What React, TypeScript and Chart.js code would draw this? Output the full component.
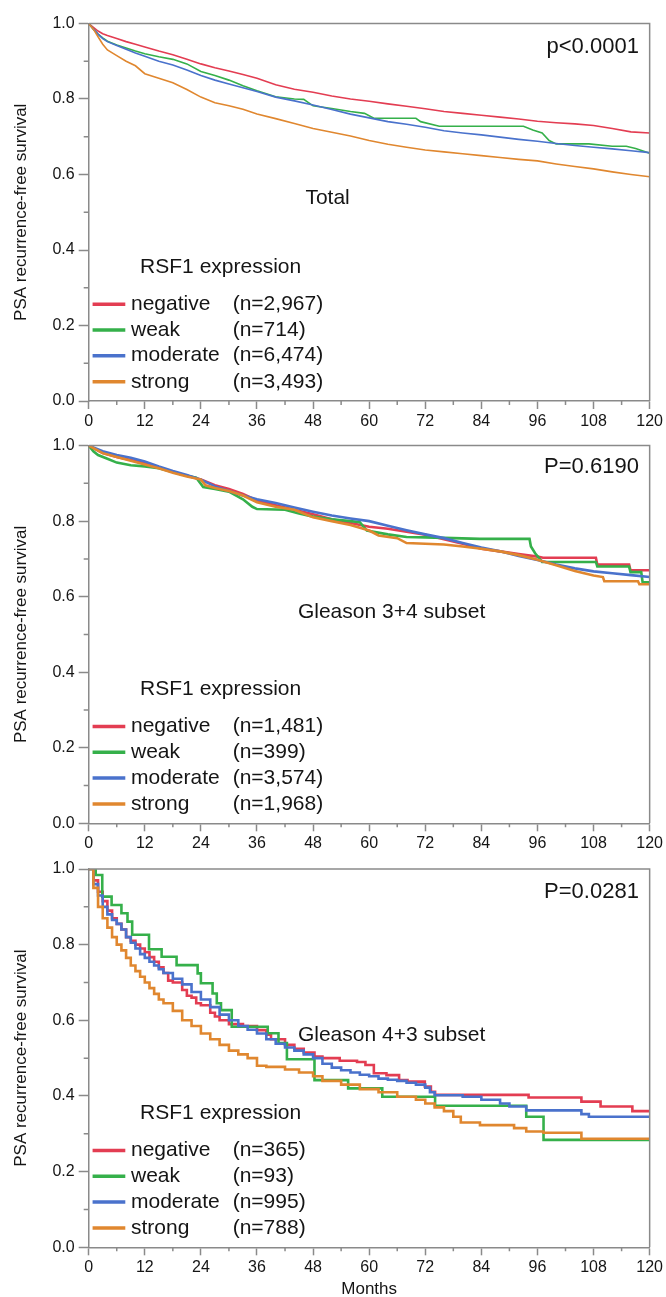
import React, { useEffect, useRef } from "react";
import { Chart, registerables } from "chart.js";

Chart.register(...registerables);

// ---------- data ----------
const GROUPS = ["negative", "weak", "moderate", "strong"];
const COLORS = ["#e33d52", "#35b04a", "#4a72cc", "#e0872f"];
const X_TICK_STEP = 12;
const Y_TICK_STEP = 0.2;

// Panel 1: Total
const P1_NEG_X = [0,1,2,3,4,6,8,10,12,15,18,21,24,27,30,33,36,40,44,48,52,56,60,64,68,72,76,80,84,88,92,96,100,104,108,112,116,120];
const P1_NEG_Y = [1,0.99,0.98,0.973,0.968,0.96,0.952,0.945,0.938,0.927,0.917,0.905,0.893,0.883,0.874,0.865,0.855,0.838,0.826,0.818,0.808,0.8,0.794,0.787,0.781,0.774,0.767,0.762,0.757,0.752,0.747,0.741,0.737,0.734,0.73,0.722,0.713,0.71];
const P1_WEAK_X = [0,1,2,3,4,6,8,10,12,15,18,21,24,27,30,33,36,40,44,46,48,52,56,59,61,66,70,71,75,80,84,88,93,95,97,98.5,100,104,107,112,115,117,120];
const P1_WEAK_Y = [1,0.985,0.972,0.962,0.953,0.943,0.935,0.927,0.92,0.912,0.905,0.893,0.873,0.862,0.85,0.835,0.822,0.806,0.8,0.799,0.782,0.775,0.767,0.762,0.749,0.749,0.749,0.74,0.728,0.728,0.728,0.728,0.728,0.718,0.71,0.69,0.681,0.681,0.681,0.675,0.675,0.669,0.656];
const P1_MOD_X = [0,1,2,3,4,6,8,10,12,15,18,21,24,27,30,33,36,40,44,48,52,56,60,64,68,72,76,80,84,88,92,96,100,104,108,112,116,120];
const P1_MOD_Y = [1,0.985,0.972,0.96,0.952,0.942,0.932,0.922,0.913,0.9,0.89,0.877,0.862,0.85,0.84,0.83,0.82,0.805,0.795,0.784,0.772,0.76,0.75,0.74,0.733,0.725,0.716,0.71,0.705,0.699,0.693,0.688,0.682,0.677,0.672,0.668,0.663,0.658];
const P1_STR_X = [0,1,2,3,4,6,8,10,12,15,18,21,24,27,30,33,36,40,44,48,52,56,60,64,68,72,76,80,84,88,92,96,100,104,108,112,116,120];
const P1_STR_Y = [1,0.985,0.965,0.945,0.93,0.915,0.9,0.888,0.867,0.855,0.843,0.825,0.805,0.79,0.782,0.773,0.76,0.748,0.735,0.722,0.712,0.702,0.69,0.68,0.672,0.665,0.66,0.655,0.65,0.645,0.64,0.636,0.628,0.621,0.615,0.607,0.6,0.594];
const P1_COUNTS = ["(n=2,967)", "(n=714)", "(n=6,474)", "(n=3,493)"];

// Panel 2: Gleason 3+4
const P2_NEG_X = [0,3,6,9,12,15,18,21,24,27,30,33,36,40,44,48,52,56,60,64,68,72,76,80,84,88,92,96,97.2,108.5,108.8,115.6,115.9,120];
const P2_NEG_Y = [1,0.98,0.97,0.962,0.953,0.942,0.93,0.92,0.91,0.895,0.885,0.872,0.855,0.842,0.83,0.818,0.805,0.795,0.785,0.78,0.772,0.764,0.752,0.74,0.727,0.72,0.713,0.706,0.703,0.703,0.685,0.685,0.67,0.67];
const P2_WEAK_X = [0,1,2,4,6,9,12,15,18,21,23,24.5,27,30,33,35,36,42,45,48,52,56,58,59.5,64,68,72,78,83.7,94.3,94.6,95.5,97,108.5,108.8,115.6,115.9,118.2,118.5,120];
const P2_WEAK_Y = [1,0.985,0.975,0.965,0.955,0.948,0.945,0.94,0.93,0.92,0.915,0.89,0.885,0.878,0.858,0.838,0.832,0.83,0.82,0.812,0.805,0.8,0.797,0.775,0.765,0.758,0.757,0.755,0.753,0.753,0.733,0.715,0.692,0.692,0.68,0.68,0.665,0.665,0.638,0.638];
const P2_MOD_X = [0,3,6,9,12,15,18,21,24,27,30,33,36,40,44,48,52,56,60,64,68,72,76,80,84,88,92,96,100,104,108,112,116,120];
const P2_MOD_Y = [1,0.985,0.975,0.968,0.958,0.945,0.933,0.922,0.91,0.892,0.88,0.868,0.858,0.848,0.836,0.825,0.815,0.807,0.8,0.788,0.776,0.765,0.755,0.742,0.73,0.72,0.708,0.697,0.685,0.675,0.667,0.662,0.657,0.652];
const P2_STR_X = [0,3,6,9,12,15,18,21,24,25,27,30,33,36,40,44,48,52,56,60,62,66,68,72,76,80,84,88,92,96,100,104,108,110,110.3,117.5,117.8,120];
const P2_STR_Y = [1,0.98,0.97,0.96,0.95,0.94,0.928,0.918,0.91,0.895,0.888,0.88,0.868,0.85,0.838,0.83,0.81,0.8,0.79,0.775,0.762,0.755,0.742,0.74,0.738,0.733,0.727,0.72,0.71,0.698,0.683,0.668,0.656,0.652,0.641,0.641,0.633,0.633];
const P2_COUNTS = ["(n=1,481)", "(n=399)", "(n=3,574)", "(n=1,968)"];

// Panel 3: Gleason 4+3
const P3_NEG_X = [0,1,2,3,4,5,6,7,8,9,10,11,12,13,14,15,16,17,18,20,21,22,23,24,26,27,28,30,33,36,38,39,42,44,46,48.3,50,53.7,57.4,59.2,61,63.7,66.4,68.2,71.9,73.2,74.1,94.1,105.4,109.5,116.3,120];
const P3_NEG_Y = [1,0.97,0.94,0.915,0.89,0.87,0.855,0.84,0.82,0.81,0.8,0.79,0.78,0.767,0.755,0.74,0.725,0.705,0.7,0.68,0.665,0.66,0.645,0.64,0.62,0.61,0.6,0.59,0.585,0.574,0.562,0.55,0.535,0.525,0.515,0.504,0.5,0.493,0.49,0.482,0.46,0.455,0.442,0.438,0.425,0.411,0.403,0.396,0.385,0.372,0.36,0.36];
const P3_WEAK_X = [0,1.5,2.9,4.9,7,8.3,9.3,12.9,15.6,18.8,23.3,24,26.5,27.4,28.3,30.6,38.3,40.6,42.4,48.3,55.5,62.8,74.1,93.6,97.3,120];
const P3_WEAK_Y = [1,0.984,0.927,0.905,0.883,0.861,0.826,0.788,0.768,0.746,0.724,0.698,0.671,0.645,0.627,0.583,0.566,0.54,0.497,0.442,0.42,0.398,0.374,0.345,0.284,0.284];
const P3_MOD_X = [0,1,2,3,4,5,6,7,8,9,10,11,12,13,14,15,16,18,20,22,24,26,28,30,32,34,36,38,40,42,44,46,48,50,52,54,56,58,60,62,64,66,68,70,72,73,74,80,84,88,90,93.6,105.4,107,120];
const P3_MOD_Y = [1,0.96,0.93,0.9,0.88,0.865,0.855,0.84,0.82,0.805,0.79,0.775,0.765,0.755,0.745,0.735,0.725,0.71,0.695,0.675,0.655,0.635,0.615,0.6,0.585,0.575,0.565,0.55,0.538,0.528,0.52,0.51,0.5,0.485,0.475,0.468,0.462,0.456,0.452,0.446,0.443,0.44,0.435,0.43,0.422,0.41,0.402,0.398,0.39,0.38,0.372,0.362,0.352,0.345,0.345];
const P3_STR_X = [0,1,2,3,4,5,6,7,8,9,10,11,12,13,14,15,16,18,20,22,24,26,28,30,32,34,36,38,42,45,48,50,54,58,62,66,70,72,74,76,78,79.6,83.7,91,93.6,97.3,105.4,120];
const P3_STR_Y = [1,0.95,0.9,0.87,0.845,0.82,0.8,0.785,0.765,0.745,0.73,0.715,0.7,0.685,0.67,0.655,0.645,0.625,0.6,0.585,0.565,0.55,0.535,0.52,0.51,0.5,0.48,0.477,0.47,0.462,0.452,0.44,0.43,0.418,0.41,0.398,0.39,0.38,0.37,0.36,0.345,0.33,0.323,0.315,0.306,0.303,0.287,0.287];
const P3_COUNTS = ["(n=365)", "(n=93)", "(n=995)", "(n=788)"];

const P_TEXTS = ["p<0.0001", "P=0.6190", "P=0.0281"];
const SUBSET_TEXTS = ["Total", "Gleason 3+4 subset", "Gleason 4+3 subset"];
const LEGEND_TITLE = "RSF1 expression";
const Y_TITLE = "PSA recurrence-free survival";
const X_TITLE = "Months";

// ---------- styling ----------
const FONT = "'Liberation Sans', Arial, Helvetica, sans-serif";
const AXIS = "#8a8a8a";
const TEXT = "#151515";

type Series = { xs: number[]; ys: number[] };
type PanelCfg = {
  top: number;
  height: number;
  padTop: number;
  xh: number;
  lw: number;
  stepped: boolean;
  series: Series[];
  counts: string[];
  pText: string;
  subset: string;
  subsetX: number;
  subsetY: number;
  pY: number;
  months: boolean;
};

const PANELS: PanelCfg[] = [
  {
    top: 8, height: 424, padTop: 15.5, xh: 31, lw: 1.6, stepped: false,
    series: [
      { xs: P1_NEG_X, ys: P1_NEG_Y },
      { xs: P1_WEAK_X, ys: P1_WEAK_Y },
      { xs: P1_MOD_X, ys: P1_MOD_Y },
      { xs: P1_STR_X, ys: P1_STR_Y },
    ],
    counts: P1_COUNTS, pText: P_TEXTS[0], subset: SUBSET_TEXTS[0],
    subsetX: 51.1, subsetY: 0.536, pY: 0.938, months: false,
  },
  {
    top: 432, height: 423, padTop: 13, xh: 31.7, lw: 2.6, stepped: false,
    series: [
      { xs: P2_NEG_X, ys: P2_NEG_Y },
      { xs: P2_WEAK_X, ys: P2_WEAK_Y },
      { xs: P2_MOD_X, ys: P2_MOD_Y },
      { xs: P2_STR_X, ys: P2_STR_Y },
    ],
    counts: P2_COUNTS, pText: P_TEXTS[1], subset: SUBSET_TEXTS[1],
    subsetX: 64.8, subsetY: 0.56, pY: 0.943, months: false,
  },
  {
    top: 855, height: 442, padTop: 14, xh: 49.7, lw: 2.6, stepped: true,
    series: [
      { xs: P3_NEG_X, ys: P3_NEG_Y },
      { xs: P3_WEAK_X, ys: P3_WEAK_Y },
      { xs: P3_MOD_X, ys: P3_MOD_Y },
      { xs: P3_STR_X, ys: P3_STR_Y },
    ],
    counts: P3_COUNTS, pText: P_TEXTS[2], subset: SUBSET_TEXTS[2],
    subsetX: 64.8, subsetY: 0.56, pY: 0.94, months: true,
  },
];

const LEGEND_ROWS_Y = [0.256, 0.188, 0.12, 0.051];

function makeOverlay(cfg: PanelCfg) {
  return {
    id: "overlay",
    afterDraw(chart: any) {
      const { ctx, chartArea: a, scales } = chart;
      const xs = scales.x;
      const ys = scales.y;
      ctx.save();
      // frame (top + right)
      ctx.strokeStyle = AXIS;
      ctx.lineWidth = 1.5;
      ctx.beginPath();
      ctx.moveTo(a.left, a.top);
      ctx.lineTo(a.right, a.top);
      ctx.lineTo(a.right, a.bottom);
      ctx.stroke();
      // minor ticks
      ctx.beginPath();
      for (let v = 0.1; v < 1; v += 0.2) {
        const py = ys.getPixelForValue(v);
        ctx.moveTo(a.left - 5, py);
        ctx.lineTo(a.left, py);
      }
      for (let m = 6; m < 120; m += 12) {
        const px = xs.getPixelForValue(m);
        ctx.moveTo(px, a.bottom);
        ctx.lineTo(px, a.bottom + 4);
      }
      ctx.stroke();

      ctx.fillStyle = TEXT;
      // P value
      ctx.font = `22px ${FONT}`;
      ctx.textAlign = "right";
      ctx.textBaseline = "middle";
      ctx.fillText(cfg.pText, xs.getPixelForValue(117.7), ys.getPixelForValue(cfg.pY));
      // subset label
      ctx.font = `21px ${FONT}`;
      ctx.textAlign = "center";
      ctx.fillText(cfg.subset, xs.getPixelForValue(cfg.subsetX), ys.getPixelForValue(cfg.subsetY));
      // legend title
      ctx.textAlign = "left";
      ctx.fillText(LEGEND_TITLE, xs.getPixelForValue(11.0), ys.getPixelForValue(0.355));
      // legend rows
      GROUPS.forEach((g, i) => {
        const py = ys.getPixelForValue(LEGEND_ROWS_Y[i]);
        ctx.strokeStyle = COLORS[i];
        ctx.lineWidth = 3.5;
        ctx.beginPath();
        ctx.moveTo(xs.getPixelForValue(0.83), py);
        ctx.lineTo(xs.getPixelForValue(7.83), py);
        ctx.stroke();
        ctx.fillStyle = TEXT;
        ctx.fillText(g, xs.getPixelForValue(9.05), py);
        ctx.fillText(cfg.counts[i], xs.getPixelForValue(30.8), py);
      });
      ctx.restore();
    },
  };
}

function Panel({ cfg }: { cfg: PanelCfg }) {
  const ref = useRef<HTMLCanvasElement | null>(null);
  useEffect(() => {
    if (!ref.current) return;
    const datasets = cfg.series.map((s, i) => ({
      label: GROUPS[i],
      data: s.xs.map((x, j) => ({ x, y: s.ys[j] })),
      borderColor: COLORS[i],
      backgroundColor: COLORS[i],
      borderWidth: cfg.lw,
      pointRadius: 0,
      fill: false,
      tension: 0,
      stepped: cfg.stepped,
      order: 3 - i,
    }));
    const chart = new Chart(ref.current, {
      type: "line",
      data: { datasets },
      options: {
        animation: false,
        responsive: true,
        maintainAspectRatio: false,
        layout: { padding: { top: cfg.padTop, right: 16, left: 0, bottom: 0 } },
        plugins: { legend: { display: false }, tooltip: { enabled: false } },
        scales: {
          x: {
            type: "linear",
            min: 0,
            max: 120,
            afterFit: (s: any) => { s.height = cfg.xh; },
            ticks: {
              stepSize: X_TICK_STEP,
              color: TEXT,
              font: { family: FONT, size: 16 },
              padding: 3,
              maxRotation: 0,
              autoSkip: false,
            },
            grid: {
              drawOnChartArea: false,
              drawTicks: true,
              tickLength: 8,
              tickColor: AXIS,
              tickWidth: 1.5,
            },
            border: { display: true, color: AXIS, width: 1.5 },
            title: {
              display: cfg.months,
              text: X_TITLE,
              color: TEXT,
              font: { family: FONT, size: 17, lineHeight: 0.85 },
              padding: { top: 0, bottom: 0 },
            },
          },
          y: {
            type: "linear",
            min: 0,
            max: 1,
            afterFit: (s: any) => { s.width = 80.7; },
            ticks: {
              stepSize: Y_TICK_STEP,
              color: TEXT,
              font: { family: FONT, size: 16 },
              padding: 4,
              callback: (v: any) => Number(v).toFixed(1),
            },
            grid: {
              drawOnChartArea: false,
              drawTicks: true,
              tickLength: 10,
              tickColor: AXIS,
              tickWidth: 1.5,
            },
            border: { display: true, color: AXIS, width: 1.5 },
            title: {
              display: true,
              text: Y_TITLE,
              color: TEXT,
              font: { family: FONT, size: 17 },
              padding: { top: 3, bottom: 0 },
            },
          },
        },
      },
      plugins: [makeOverlay(cfg)],
    } as any);
    return () => chart.destroy();
  }, [cfg]);
  return (
    <div
      style={{
        position: "absolute",
        left: 8,
        top: cfg.top,
        width: 658,
        height: cfg.height,
      }}
    >
      <canvas ref={ref} />
    </div>
  );
}

export default function App() {
  return (
    <div
      style={{
        position: "absolute",
        left: 0,
        top: 0,
        width: 666,
        height: 1297,
        overflow: "hidden",
        background: "#ffffff",
      }}
    >
      {PANELS.map((p, i) => (
        <Panel key={i} cfg={p} />
      ))}
    </div>
  );
}
